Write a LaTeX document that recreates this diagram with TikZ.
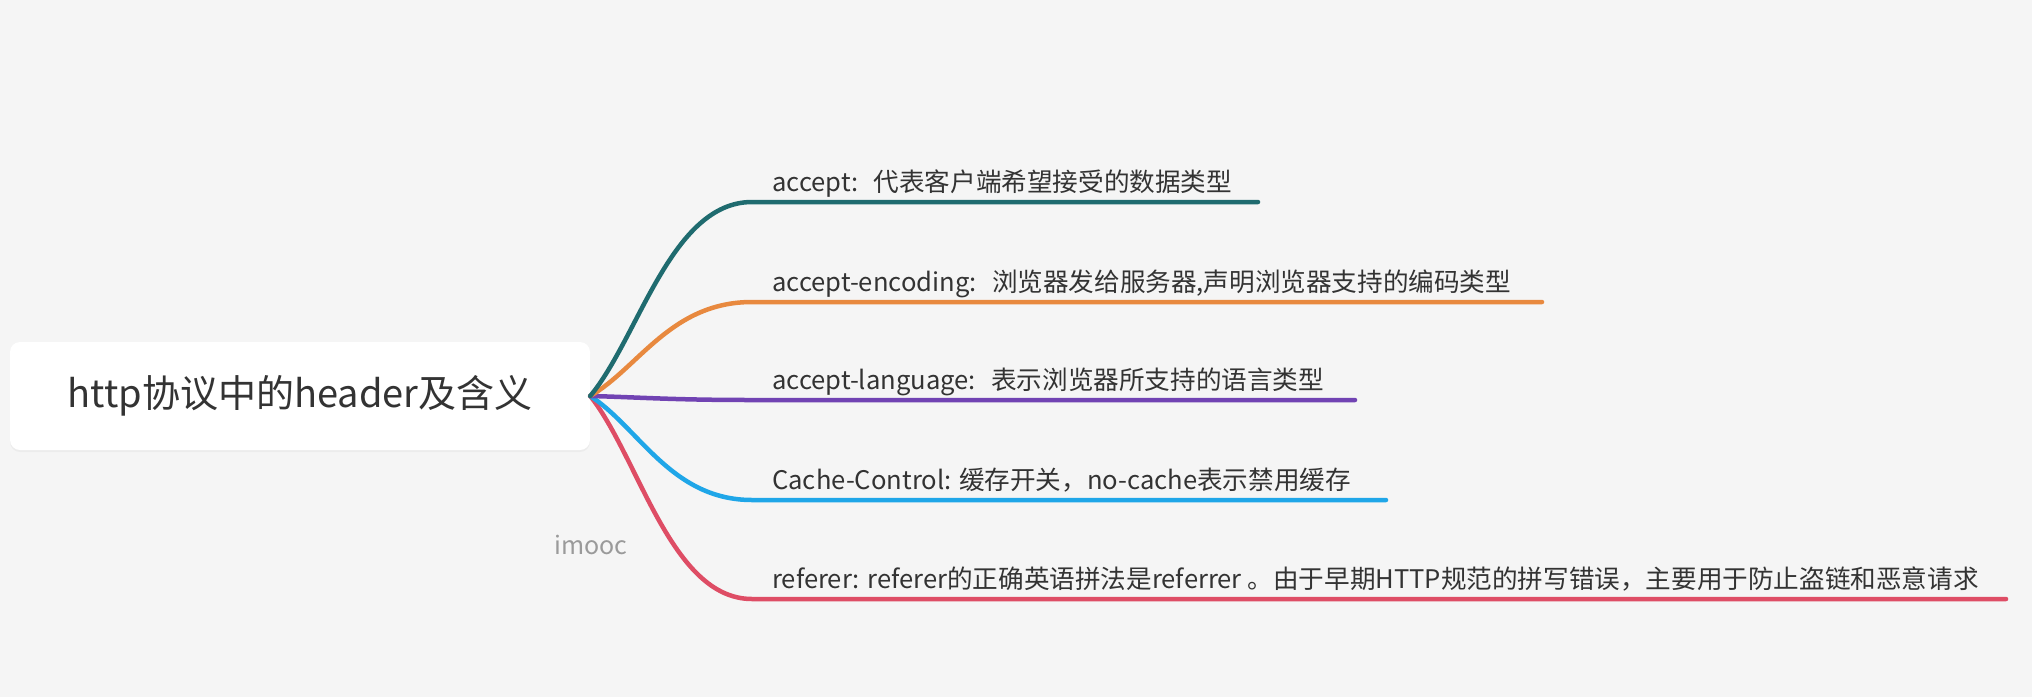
\documentclass[tikz,border=0pt]{standalone}
\usepackage{fontspec}
\setmainfont{Noto Sans CJK SC}
\usetikzlibrary{calc,shadows}
\definecolor{bgc}{HTML}{F5F5F5}
\definecolor{txt}{HTML}{333333}
\definecolor{cteal}{HTML}{1F6B6F}
\definecolor{corange}{HTML}{E8893F}
\definecolor{cpurple}{HTML}{7143B3}
\definecolor{cblue}{HTML}{1FA6E8}
\definecolor{cred}{HTML}{DE4D65}
\definecolor{wm}{HTML}{9A9A9A}
\newcommand{\colgap}{:\hspace{0.6em}}
\tikzset{
  rootbox/.style={fill=white, rounded corners=10pt, minimum width=580pt, minimum height=108pt,
    inner sep=0pt, text=txt, font=\fontsize{38}{45}\selectfont,
    drop shadow={opacity=0.07, shadow xshift=0pt, shadow yshift=-2pt}},
  lbl/.style={anchor=base west, inner sep=0pt, text=txt, font=\fontsize{25.6}{30}\selectfont},
  br/.style={line width=4.5pt, line cap=round},
  wmark/.style={text=wm, inner sep=0pt, font=\fontsize{25}{30}\selectfont}
}
\begin{document}
\begin{tikzpicture}[x=1pt,y=-1pt]
\fill[bgc] (0,0) rectangle (2032,697);
\useasboundingbox (0,0) rectangle (2032,697);
\node[rootbox] (root) at (300,396) {http协议中的header及含义};
\node[wmark] (imooc) at (591,545) {imooc};
% branch labels
\node[lbl] (t1) at (772,191) {accept\colgap 代表客户端希望接受的数据类型};
\node[lbl] (t2) at (772,291) {accept-encoding\colgap 浏览器发给服务器,声明浏览器支持的编码类型};
\node[lbl] (t3) at (772,389) {accept-language\colgap 表示浏览器所支持的语言类型};
\node[lbl] (t4) at (772,489) {Cache-Control: 缓存开关，no-cache表示禁用缓存};
\node[lbl] (t5) at (772,588) {referer: referer的正确英语拼法是referrer 。由于早期HTTP规范的拼写错误，主要用于防止盗链和恶意请求};
% bend and end points
\coordinate (k1) at (752,202); \coordinate (z1) at (1258,202);
\coordinate (k2) at (752,302); \coordinate (z2) at (1542,302);
\coordinate (k3) at (752,400); \coordinate (z3) at (1355,400);
\coordinate (k4) at (752,500); \coordinate (z4) at (1386,500);
\coordinate (k5) at (752,599); \coordinate (z5) at (2006,599);
% connectors
\draw[br, cred]    (root.east) .. controls ($(root.east)!0.3!(k5)$) and (671,599) .. (k5) -- (z5);
\draw[br, cblue]   (root.east) .. controls ($(root.east)!0.3!(k4)$) and (671,500) .. (k4) -- (z4);
\draw[br, cpurple] (root.east) .. controls ($(root.east)!0.3!(k3)$) and (671,400) .. (k3) -- (z3);
\draw[br, corange] (root.east) .. controls ($(root.east)!0.3!(k2)$) and (671,302) .. (k2) -- (z2);
\draw[br, cteal]   (root.east) .. controls ($(root.east)!0.3!(k1)$) and (671,202) .. (k1) -- (z1);
\end{tikzpicture}
\end{document}
